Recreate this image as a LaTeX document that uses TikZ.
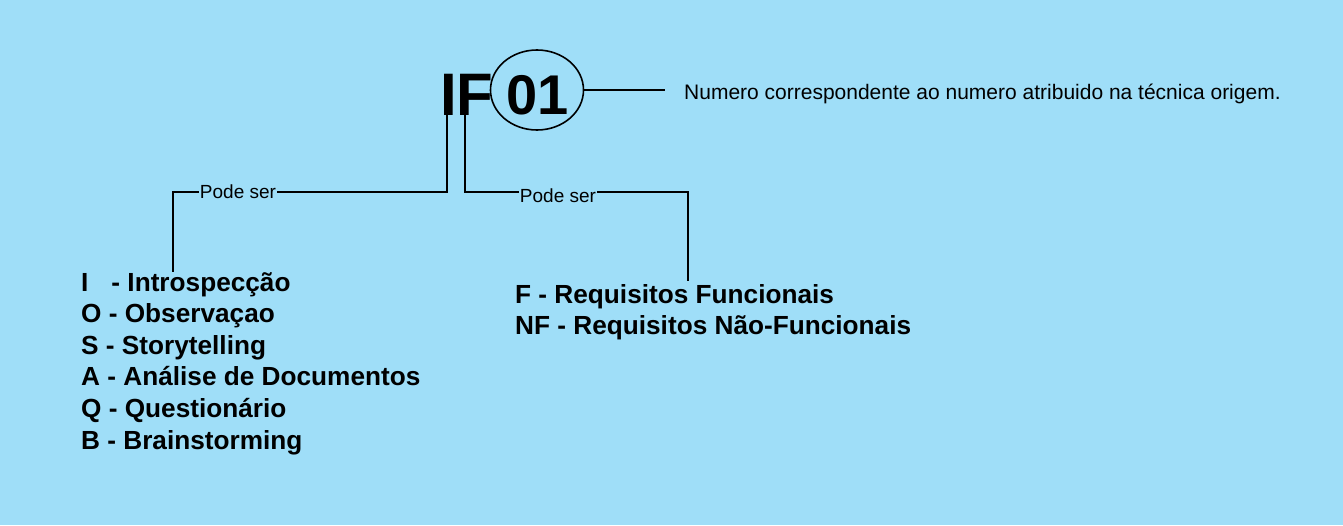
\documentclass[tikz,border=0pt]{standalone}
\usepackage{fontspec}
\setmainfont{Liberation Sans}
\usetikzlibrary{shapes.geometric}
\definecolor{bg}{RGB}{159,222,248}
\begin{document}
\begin{tikzpicture}[x=1pt,y=-1pt,
  conn/.style={draw=black,line width=1.6pt},
  big/.style={inner sep=0pt,anchor=base west,font=\fontsize{60}{60}\selectfont\bfseries},
  lbl/.style={fill=bg,inner sep=1pt,font=\fontsize{19}{19}\selectfont},
  listtxt/.style={inner sep=0pt,anchor=north west,align=left,font=\fontsize{26.2}{31.6}\selectfont\bfseries},
  note/.style={inner sep=0pt,anchor=base west,font=\fontsize{21}{21}\selectfont}]
\fill[bg] (0,0) rectangle (1343,525);
\useasboundingbox (0,0) rectangle (1343,525);
% title
\node[big] (IF) at (440,115) {IF};
\node[draw=black,line width=1.6pt,ellipse,minimum width=93pt,minimum height=80pt,inner sep=0pt] (circ) at (537,90) {};
\node[big,anchor=base,font=\fontsize{56}{56}\selectfont\bfseries] (num) at (538,114) {01};
\coordinate (lineEnd) at (665,90);
\draw[conn] (circ.east) -- (lineEnd);
\node[note] (desc) at (684,99) {Numero correspondente ao numero atribuido na técnica origem.};
% lists
\node[listtxt] (listL) at (81,272) {I\hspace{0.6em} - Introspecção\\O - Observaçao\\S - Storytelling\\A - Análise de Documentos\\Q - Questionário\\B - Brainstorming};
\node[listtxt] (listR) at (515,284) {F - Requisitos Funcionais\\NF - Requisitos Não-Funcionais};
% connectors
\coordinate (iS) at (447,115);
\coordinate (iJ) at (447,192);
\coordinate (lT) at (173,272);
\coordinate (fS) at (465,115);
\coordinate (fJ) at (465,192);
\coordinate (rT) at (688,281);
\draw[conn] (iS) -- (iJ) -| (lT);
\draw[conn] (fS) -- (fJ) -| (rT);
\node[lbl] (p1) at (238,192) {Pode ser};
\node[lbl] (p2) at (558,196) {Pode ser};
\end{tikzpicture}
\end{document}
